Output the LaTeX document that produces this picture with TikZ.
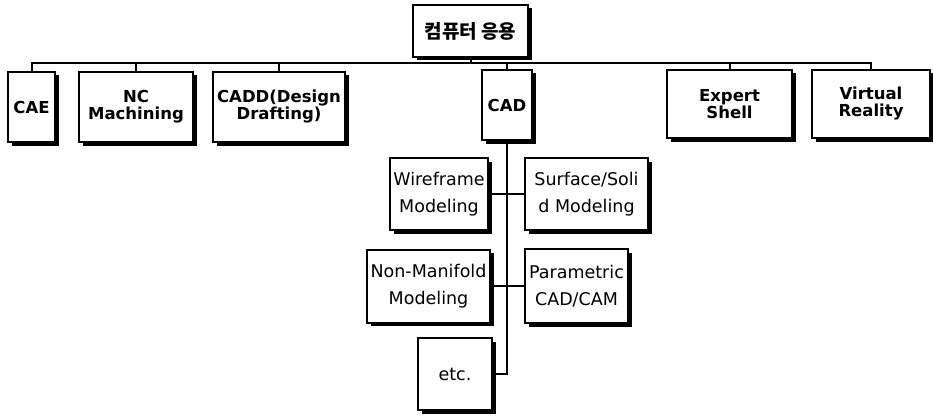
\documentclass[tikz,border=0pt]{standalone}
\usepackage{fontspec}
\setmainfont{DejaVu Sans}
\newfontfamily\kr{Noto Sans CJK KR}
\usetikzlibrary{shadows}
\tikzset{
        rowbox/.style={shape=rectangle,draw=black,fill=white,inner sep=1pt,align=center,
                drop shadow={shadow xshift=3.5pt,shadow yshift=-3.5pt,fill=black,opacity=1},
                font=\fontsize{16.5}{17}\selectfont\bfseries},
        subbox/.style={rowbox,font=\fontsize{17.5}{27}\selectfont}
}
\begin{document}
\begin{tikzpicture}[x=1pt,y=-1pt,line width=2pt]
        \useasboundingbox (0,0) rectangle (933,417);
        \node[rowbox,minimum width=115pt,minimum height=52pt,font=\kr\fontsize{19}{20}\selectfont\bfseries] (0) at (470.5,31) {컴퓨터 응용};
        \node[rowbox,minimum width=47pt,minimum height=70pt] (1) at (31.5,107) {CAE};
        \node[rowbox,minimum width=114pt,minimum height=70pt] (2) at (136,107) {NC\\Machining};
        \node[rowbox,minimum width=132pt,minimum height=70pt] (3) at (279,107) {CADD(Design\\Drafting)};
        \node[rowbox,minimum width=50pt,minimum height=70pt] (4) at (507,105) {CAD};
        \node[rowbox,minimum width=125pt,minimum height=68pt] (5) at (729.5,104) {Expert\\Shell};
        \node[rowbox,minimum width=118pt,minimum height=68pt] (6) at (871,104) {Virtual\\Reality};
        \node[subbox,minimum width=98pt,minimum height=72pt] (7) at (439,194) {Wireframe\\Modeling};
        \node[subbox,minimum width=123pt,minimum height=72pt] (8) at (586.5,194) {Surface/Soli\\d Modeling};
        \node[subbox,minimum width=123pt,minimum height=73pt] (9) at (428.5,286) {Non-Manifold\\Modeling};
        \node[subbox,minimum width=103pt,minimum height=74pt] (10) at (576.5,286) {Parametric\\CAD/CAM};
        \node[subbox,minimum width=74pt,minimum height=72pt] (11) at (455,374) {etc.};
        \coordinate (bar) at (470.5,63);
        \draw (0) -- (bar);
        \foreach \n in {1,...,6}
                \draw (bar) -| (\n.north);
        \draw (4) |- (11);
        \path (7) edge (8);
        \path (9) edge (10);
\end{tikzpicture}
\end{document}
